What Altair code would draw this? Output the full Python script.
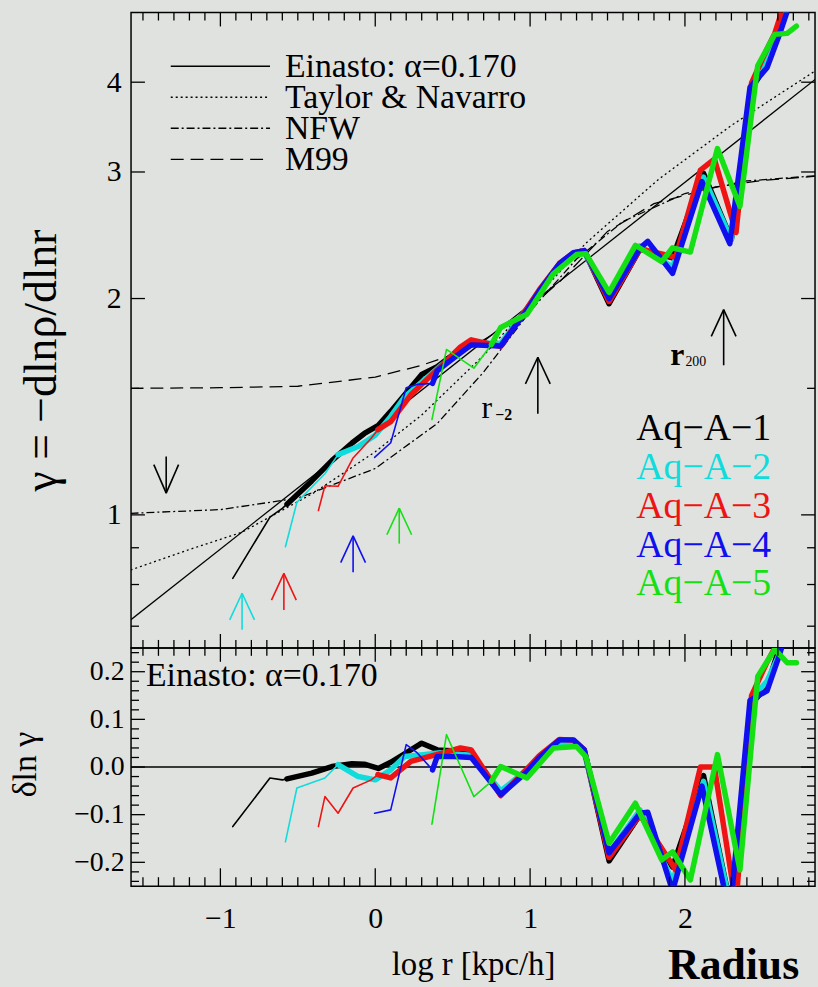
import altair as alt
import pandas as pd

FONT = "Liberation Serif, DejaVu Serif, serif"
BG = "#e0e2e0"
CYAN, RED, BLUE, GREEN = "#10dcdc", "#ee1414", "#1010ee", "#14e014"

# ---------------- data ----------------
# analytic fits (gamma vs log r)
EIN_X = [-1.58, 2.85]
EIN_G = [0.714, 4.05]
TN_X = [-1.58, -1.2, -0.86, -0.4, 0.0, 0.3, 0.7, 1.0, 1.36, 1.83, 2.3, 2.85]
TN_G = [0.838, 0.895, 0.946, 1.072, 1.224, 1.377, 1.667, 1.963, 2.388, 2.931, 3.483, 4.159]
NFW_X = [-1.58, -1.0, -0.5, 0.0, 0.4, 0.7, 1.0, 1.3, 1.6, 2.0, 2.4, 2.85]
NFW_G = [1.005, 1.017, 1.055, 1.16, 1.34, 1.58, 1.92, 2.27, 2.56, 2.80, 2.915, 2.965]
M99_X = [-1.58, -1.0, -0.5, 0.0, 0.3, 0.6, 0.9, 1.2, 1.5, 1.8, 2.2, 2.5, 2.85]
M99_G = [1.500, 1.503, 1.51, 1.555, 1.615, 1.70, 1.86, 2.12, 2.48, 2.71, 2.86, 2.92, 2.96]

# simulations: thin (unconverged) and thick parts; g = gamma, d = delta ln gamma
A1_THIN_X = [-0.92, -0.68, -0.60, -0.57]
A1_THIN_G = [0.816, 0.993, 1.021, 1.035]
A1_THIN_D = [-0.125, -0.023, -0.027, -0.025]
A1_X = [-0.57, -0.41, -0.28, -0.15, -0.07, 0.02, 0.10, 0.20, 0.30, 0.40, 0.55, 0.62, 0.81, 0.98,
        1.06, 1.19, 1.28, 1.35, 1.51, 1.71, 1.92, 2.12, 2.30, 2.45, 2.53, 2.60, 2.66]
A1_G = [1.035, 1.115, 1.190, 1.259, 1.298, 1.332, 1.393, 1.478, 1.568, 1.608, 1.700, 1.742, 1.723, 1.935,
        2.049, 2.233, 2.308, 2.330, 1.967, 2.344, 2.279, 2.987, 2.417, 3.981, 4.232, 4.665, 5.07]
A1_D = [-0.025, -0.013, 0.001, 0.007, 0.006, -0.003, 0.01, 0.03, 0.05, 0.036, 0.033, 0.03, -0.055, -0.006,
        0.02, 0.055, 0.053, 0.035, -0.197, -0.10, -0.21, -0.018, -0.30, 0.14, 0.17, 0.24, 0.30]

A2_THIN_X = [-0.58, -0.506, -0.325, -0.24]
A2_THIN_G = [0.903, 1.041, 1.141, 1.213]
A2_THIN_D = [-0.157, -0.044, -0.023, 0.005]
A2_X = [-0.24, -0.11, 0.0, 0.10, 0.19, 0.31, 0.42, 0.62, 0.81, 0.98, 1.06, 1.19, 1.28, 1.35, 1.51,
        1.71, 1.92, 2.12, 2.30, 2.45, 2.53, 2.60, 2.66]
A2_G = [1.213, 1.245, 1.291, 1.371, 1.460, 1.537, 1.611, 1.733, 1.732, 1.935, 2.053, 2.222, 2.301, 2.318,
        2.000, 2.367, 2.212, 2.951, 2.417, 4.021, 4.275, 4.619, 5.07]
A2_D = [0.005, -0.02, -0.027, -0.006, 0.022, 0.026, 0.03, 0.025, -0.05, -0.006, 0.022, 0.05, 0.05, 0.03,
        -0.18, -0.09, -0.24, -0.03, -0.30, 0.15, 0.18, 0.23, 0.30]

A3_THIN_X = [-0.367, -0.325, -0.24, -0.143, -0.026, 0.017]
A3_THIN_G = [1.014, 1.098, 1.096, 1.200, 1.278, 1.314]
A3_THIN_D = [-0.125, -0.062, -0.097, -0.044, -0.027, -0.016]
A3_X = [0.017, 0.10, 0.23, 0.316, 0.444, 0.55, 0.62, 0.81, 0.98, 1.06, 1.19, 1.28, 1.35, 1.51, 1.71,
        1.94, 2.10, 2.19, 2.33, 2.43, 2.53, 2.58, 2.64]
A3_G = [1.314, 1.348, 1.469, 1.530, 1.626, 1.712, 1.752, 1.715, 1.939, 2.057, 2.239, 2.315, 2.332, 1.981,
        2.344, 2.283, 3.018, 3.126, 2.471, 3.99, 4.45, 4.676, 5.13]
A3_D = [-0.016, -0.023, 0.012, 0.019, 0.03, 0.04, 0.036, -0.06, -0.004, 0.024, 0.058, 0.056, 0.036, -0.19,
        -0.10, -0.216, 0.0, 0.0, -0.29, 0.15, 0.22, 0.25, 0.32]

A4_THIN_X = [-0.004, 0.10, 0.20, 0.27, 0.37]
A4_THIN_G = [1.202, 1.260, 1.503, 1.519, 1.524]
A4_THIN_D = [-0.097, -0.09, 0.047, 0.03, -0.006]
A4_X = [0.37, 0.40, 0.51, 0.62, 0.81, 0.98, 1.06, 1.19, 1.28, 1.35, 1.51, 1.71, 1.76, 1.92, 2.11,
        2.29, 2.42, 2.53, 2.61, 2.67]
A4_G = [1.524, 1.586, 1.655, 1.724, 1.718, 1.927, 2.049, 2.237, 2.317, 2.332, 2.000, 2.351, 2.402, 2.168,
        2.910, 2.384, 3.934, 4.190, 4.66, 5.09]
A4_D = [-0.006, 0.022, 0.022, 0.02, -0.058, -0.01, 0.02, 0.057, 0.057, 0.036, -0.18, -0.097, -0.095, -0.26,
        -0.04, -0.31, 0.14, 0.16, 0.235, 0.30]

A5_THIN_X = [0.366, 0.46, 0.637, 0.75]
A5_THIN_G = [1.357, 1.699, 1.600, 1.726]
A5_THIN_D = [-0.12, 0.068, -0.062, -0.03]
A5_X = [0.75, 0.81, 0.98, 1.15, 1.30, 1.36, 1.51, 1.68, 1.85, 1.92, 2.035, 2.21, 2.355, 2.47, 2.58, 2.66, 2.72]
A5_G = [1.726, 1.823, 1.902, 2.165, 2.303, 2.309, 2.040, 2.372, 2.251, 2.353, 2.321, 3.234, 2.687, 4.217,
        4.662, 4.677, 4.788]
A5_D = [-0.03, 0.001, -0.023, 0.04, 0.043, 0.022, -0.16, -0.076, -0.195, -0.178, -0.237, 0.026, -0.216, 0.19,
        0.247, 0.219, 0.219]

SIM_NAMES = ["Aq−A−1", "Aq−A−2", "Aq−A−3", "Aq−A−4", "Aq−A−5"]
SIM_COLORS = ["#000000", CYAN, RED, BLUE, GREEN]

# convergence / characteristic radius arrows
ARROW_X = [-1.35, -0.86, -0.59, -0.143, 0.155, 1.05, 2.25]
ARROW_TAIL = [1.206, 0.692, 0.737, 0.832, 0.912, 1.383, 1.615]
ARROW_TIP = [1.072, 0.778, 0.829, 0.935, 1.022, 1.657, 1.930]
ARROW_COLORS = ["#000000", CYAN, RED, BLUE, GREEN, "#000000", "#000000"]

LEGEND_NAMES = ["Einasto: α=0.170", "Taylor & Navarro", "NFW", "M99"]

X_MAJOR = [-1, 0, 1, 2]
X_MINOR = [v / 10 for v in range(-15, 29) if v % 10 != 0]
G_MAJOR = [1, 2, 3, 4]
G_MINOR = [0.7, 0.8, 0.9, 1.5]
D_MAJOR = [-0.2, -0.1, 0.0, 0.1, 0.2]
D_MINOR = [v / 100 for v in range(-24, 25, 2) if v % 10 != 0]

# ---------------- styling ----------------
W, H1, H2 = 689, 640, 240
xs = alt.Scale(domain=[-1.577, 2.84], nice=False, zero=False)
gs = alt.Scale(type="log", domain=[0.653, 5.0], nice=False)
ds = alt.Scale(domain=[-0.25, 0.25], nice=False, zero=False)

AX_G = alt.Axis(values=G_MAJOR, format="d", ticks=False, tickSize=0, domain=False, grid=False,
                labelFont=FONT, labelFontSize=30, labelColor="black", labelPadding=10,
                title="γ = −dlnρ/dlnr", titleFont=FONT, titleFontSize=46, titleFontWeight="normal",
                titleColor="black", titleX=-90, titleY=350, titleAngle=270, titleBaseline="middle",
                titleAlign="center")
AX_D = alt.Axis(values=D_MAJOR, format=".1f", ticks=False, tickSize=0, domain=False, grid=False,
                labelFont=FONT, labelFontSize=28, labelColor="black", labelPadding=7,
                title="δln γ", titleFont=FONT, titleFontSize=34, titleFontWeight="normal",
                titleColor="black", titleX=-106, titleY=117, titleAngle=270, titleBaseline="middle",
                titleAlign="center")
AX_X = alt.Axis(values=X_MAJOR, format="d", ticks=False, tickSize=0, domain=False, grid=False,
                labelFont=FONT, labelFontSize=30, labelColor="black", labelPadding=18,
                title="log r [kpc/h]", titleFont=FONT, titleFontSize=33, titleFontWeight="normal",
                titleColor="black", titleY=79, titleBaseline="middle")


def XE(axis):
    return alt.X("x:Q", scale=xs, axis=axis)


def YG():
    return alt.Y("g:Q", scale=gs, axis=AX_G)


def YD():
    return alt.Y("d:Q", scale=ds, axis=AX_D)


def xticks(vals, length, at_top, H, axis):
    df = pd.DataFrame({"x": vals})
    y0, y1 = (0, length) if at_top else (H, H - length)
    return alt.Chart(df).mark_rule(color="black", strokeWidth=1.3).encode(
        x=XE(axis), y=alt.value(y0), y2=alt.value(y1))


def yticks(vals, field, yenc, length, left):
    df = pd.DataFrame({field: vals})
    x0, x1 = (0, length) if left else (W, W - length)
    return alt.Chart(df).mark_rule(color="black", strokeWidth=1.3).encode(
        y=yenc, x=alt.value(x0), x2=alt.value(x1))


sims = [
    ((A1_THIN_X, A1_THIN_G, A1_THIN_D), (A1_X, A1_G, A1_D)),
    ((A2_THIN_X, A2_THIN_G, A2_THIN_D), (A2_X, A2_G, A2_D)),
    ((A3_THIN_X, A3_THIN_G, A3_THIN_D), (A3_X, A3_G, A3_D)),
    ((A4_THIN_X, A4_THIN_G, A4_THIN_D), (A4_X, A4_G, A4_D)),
    ((A5_THIN_X, A5_THIN_G, A5_THIN_D), (A5_X, A5_G, A5_D)),
]


def sim_layers(panel, xaxis):
    out = []
    for (thin, thick), color in zip(sims, SIM_COLORS):
        for seg, width in ((thin, 1.6), (thick, 5.5)):
            df = pd.DataFrame({"x": seg[0], "g": seg[1], "d": seg[2], "o": list(range(len(seg[0])))})
            yenc = YG() if panel == "top" else YD()
            out.append(alt.Chart(df).mark_line(color=color, strokeWidth=width, clip=True,
                                               strokeJoin="round", strokeCap="round").encode(
                x=XE(xaxis), y=yenc, order="o:Q"))
    return out


# ---------------- top panel ----------------
top_layers = []
for xv, gv, dash in ((EIN_X, EIN_G, None), (TN_X, TN_G, [2, 3]), (NFW_X, NFW_G, [8, 3, 2, 3]),
                     (M99_X, M99_G, [13, 7])):
    df = pd.DataFrame({"x": xv, "g": gv})
    kw = dict(color="black", strokeWidth=1.3, clip=True)
    if dash:
        kw["strokeDash"] = dash
    top_layers.append(alt.Chart(df).mark_line(**kw).encode(x=XE(None), y=YG()))

top_layers += sim_layers("top", None)

# arrows
WING_DX, WING_UP, WING_DOWN = 0.08, 0.918, 1.096
for ax_, tail, tip, col in zip(ARROW_X, ARROW_TAIL, ARROW_TIP, ARROW_COLORS):
    f = WING_UP if tip > tail else WING_DOWN
    df = pd.DataFrame({
        "x": [ax_, ax_, ax_ - WING_DX, ax_, ax_ + WING_DX, ax_],
        "g": [tail, tip, tip * f, tip, tip * f, tip],
        "s": [0, 0, 1, 1, 2, 2],
    })
    top_layers.append(alt.Chart(df).mark_line(color=col, strokeWidth=1.6).encode(
        x=XE(None), y=YG(), detail="s:N"))

# r_-2 and r_200 labels
lab = pd.DataFrame({"x": [ARROW_X[5] - 0.33], "g": [1.41]})
top_layers.append(alt.Chart(lab).mark_text(text="r", font=FONT, fontSize=32, color="black",
                                           baseline="middle").encode(x=XE(None), y=YG()))
lab = pd.DataFrame({"x": [ARROW_X[5] - 0.22], "g": [1.375]})
top_layers.append(alt.Chart(lab).mark_text(text="−2", font=FONT, fontSize=16, color="black",
                                           fontWeight="bold", baseline="middle").encode(x=XE(None), y=YG()))
lab = pd.DataFrame({"x": [ARROW_X[6] - 0.30], "g": [1.67]})
top_layers.append(alt.Chart(lab).mark_text(text="r", font=FONT, fontSize=32, color="black",
                                           fontWeight="bold", baseline="middle").encode(x=XE(None), y=YG()))
lab = pd.DataFrame({"x": [ARROW_X[6] - 0.18], "g": [1.63]})
top_layers.append(alt.Chart(lab).mark_text(text="200", font=FONT, fontSize=14, color="black",
                                           baseline="middle").encode(x=XE(None), y=YG()))

# line-style legend
dashes = [None, [2, 3], [8, 3, 2, 3], [13, 7]]
for i, (name, dash) in enumerate(zip(LEGEND_NAMES, dashes)):
    yy = 54 + 31.3 * i
    kw = dict(color="black", strokeWidth=1.5)
    if dash:
        kw["strokeDash"] = dash
    top_layers.append(alt.Chart(pd.DataFrame({"k": [0]})).mark_rule(**kw).encode(
        x=alt.value(40), x2=alt.value(140), y=alt.value(yy)))
    top_layers.append(alt.Chart(pd.DataFrame({"k": [0]})).mark_text(
        text=name, font=FONT, fontSize=34, color="black", align="left", baseline="middle", dy=1).encode(
        x=alt.value(155), y=alt.value(yy)))

# simulation labels
for i, (name, col) in enumerate(zip(SIM_NAMES, SIM_COLORS)):
    top_layers.append(alt.Chart(pd.DataFrame({"k": [0]})).mark_text(
        text=name, font=FONT, fontSize=38, color=col, align="left", baseline="middle").encode(
        x=alt.value(509), y=alt.value(420 + 39 * i)))

# frame ticks
top_layers += [
    xticks(X_MAJOR, 14, True, H1, None), xticks(X_MINOR, 8, True, H1, None),
    xticks(X_MAJOR, 14, False, H1, None), xticks(X_MINOR, 8, False, H1, None),
    yticks(G_MAJOR, "g", YG(), 14, True), yticks(G_MINOR, "g", YG(), 8, True),
    yticks(G_MAJOR, "g", YG(), 14, False), yticks(G_MINOR, "g", YG(), 8, False),
]

top = alt.layer(*top_layers).properties(width=W, height=H1)

# ---------------- bottom panel ----------------
bot_layers = []
bot_layers.append(alt.Chart(pd.DataFrame({"d": [0.0]})).mark_rule(color="black", strokeWidth=1.5).encode(
    y=YD(), x=alt.value(0), x2=alt.value(W)))
bot_layers += sim_layers("bottom", AX_X)
bot_layers.append(alt.Chart(pd.DataFrame({"k": [0]})).mark_text(
    text=LEGEND_NAMES[0], font=FONT, fontSize=34, color="black", align="left", baseline="middle").encode(
    x=alt.value(15), y=alt.value(28)))
bot_layers.append(alt.Chart(pd.DataFrame({"k": [0]})).mark_text(
    text="Radius", font=FONT, fontSize=44, fontWeight="bold", color="black", align="center",
    baseline="middle").encode(x=alt.value(607), y=alt.value(321)))
bot_layers += [
    xticks(X_MAJOR, 14, True, H2, AX_X), xticks(X_MINOR, 8, True, H2, AX_X),
    xticks(X_MAJOR, 18, False, H2, AX_X), xticks(X_MINOR, 9, False, H2, AX_X),
    yticks(D_MAJOR, "d", YD(), 14, True), yticks(D_MINOR, "d", YD(), 8, True),
    yticks(D_MAJOR, "d", YD(), 14, False), yticks(D_MINOR, "d", YD(), 8, False),
]
bottom = alt.layer(*bot_layers).properties(width=W, height=H2)

chart = alt.vconcat(top, bottom, spacing=0, bounds="flush").properties(
    padding={"left": 8, "top": 7, "right": 1, "bottom": 0}
).configure(background=BG).configure_view(stroke="black", strokeWidth=1.5)

chart.save("out.html", embed_options={"renderer": "svg", "actions": False})
